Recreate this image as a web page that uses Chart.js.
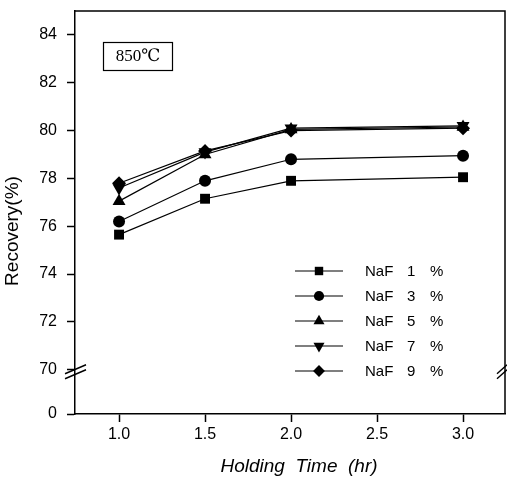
<!DOCTYPE html>
<html>
<head>
<meta charset="utf-8">
<script src="https://cdn.jsdelivr.net/npm/chart.js@4.4.1/dist/chart.umd.min.js"></script>
<style>
  html, body { margin: 0; padding: 0; background: #fff; }
  #wrap { width: 507px; height: 483px; position: relative; }
</style>
</head>
<body>
<div id="wrap"><canvas id="chart"></canvas></div>
<script>
// Recovery vs holding time at 850 C, for different NaF additions
const holdingTimes = [1.0, 1.5, 2.0, 3.0];
const naf1 = [75.65, 77.15, 77.9, 78.05];
const naf3 = [76.2, 77.9, 78.8, 78.95];
const naf5 = [77.05, 79.0, 80.05, 80.15];
const naf7 = [77.6, 79.1, 80.1, 80.2];
const naf9 = [77.8, 79.15, 80.0, 80.1];
const seriesLabels = ['NaF 1 %', 'NaF 3 %', 'NaF 5 %', 'NaF 7 %', 'NaF 9 %'];

// broken y axis: the "0" tick sits just under the 70 break
const breakValue = 68.15;
const yTicks = [breakValue, 70, 72, 74, 76, 78, 80, 82, 84];
const xTicks = [1.0, 1.5, 2.0, 2.5, 3.0];
const tempLabel = '850\u2103';

const markers = [
    { pointStyle: 'rect', rotation: 0, radius: 7 },
    { pointStyle: 'circle', rotation: 0, radius: 6 },
    { pointStyle: 'triangle', rotation: 0, radius: 7.5 },
    { pointStyle: 'triangle', rotation: 180, radius: 7.5 },
    { pointStyle: 'rectRot', rotation: 0, radius: 7 }
];

const seriesValues = [naf1, naf3, naf5, naf7, naf9];

const datasets = seriesValues.map((vals, i) => ({
    label: seriesLabels[i],
    data: holdingTimes.map((t, j) => ({ x: t, y: vals[j] })),
    borderColor: '#000',
    backgroundColor: '#000',
    borderWidth: 1.2,
    pointStyle: markers[i].pointStyle,
    rotation: markers[i].rotation,
    pointRadius: markers[i].radius,
    pointBorderWidth: 0,
    pointBackgroundColor: '#000',
    tension: 0
}));

function drawMarker(ctx, m, x, y, scale) {
    ctx.fillStyle = '#000';
    ctx.strokeStyle = '#000';
    if (Chart.helpers && Chart.helpers.drawPoint) {
        Chart.helpers.drawPoint(ctx, {
            pointStyle: m.pointStyle,
            rotation: m.rotation,
            radius: m.radius * scale,
            borderWidth: 0
        }, x, y);
    }
}

const decorations = {
    id: 'decorations',
    afterDraw(chart) {
        const ctx = chart.ctx;
        const area = chart.chartArea;
        const yScale = chart.scales.y;
        ctx.save();

        // top and right frame
        ctx.strokeStyle = '#000';
        ctx.lineWidth = 1.5;
        ctx.beginPath();
        ctx.moveTo(area.left, area.top);
        ctx.lineTo(area.right, area.top);
        ctx.lineTo(area.right, area.bottom);
        ctx.stroke();

        // axis break marks
        const yb = yScale.getPixelForValue(70) + 3;
        ctx.lineWidth = 1.4;
        [[area.left - 10, area.left + 11], [area.right - 8, area.right + 2]].forEach(([x1, x2]) => {
            ctx.beginPath();
            ctx.moveTo(x1, yb + 1);
            ctx.lineTo(x2, yb - 8);
            ctx.moveTo(x1, yb + 6);
            ctx.lineTo(x2, yb - 3);
            ctx.stroke();
        });

        // temperature box
        ctx.lineWidth = 1.2;
        ctx.strokeRect(103.5, 42.5, 69, 28);
        ctx.fillStyle = '#000';
        ctx.font = "17px 'Liberation Serif', 'DejaVu Serif', serif";
        ctx.textAlign = 'center';
        ctx.textBaseline = 'middle';
        ctx.fillText(tempLabel, 138, 57);

        // legend
        ctx.font = "15px 'Liberation Sans', Arial, sans-serif";
        ctx.textAlign = 'left';
        chart.data.datasets.forEach((ds, i) => {
            const ly = 271 + i * 25;
            ctx.lineWidth = 1.2;
            ctx.beginPath();
            ctx.moveTo(295, ly);
            ctx.lineTo(343, ly);
            ctx.stroke();
            drawMarker(ctx, markers[i], 319, ly, 0.85);
            const parts = ds.label.split(' ');
            const offsets = [0, 42, 65];
            parts.forEach((p, k) => ctx.fillText(p, 365 + offsets[k], ly + 1));
        });

        // axis titles
        ctx.font = "19px 'Liberation Sans', Arial, sans-serif";
        ctx.textAlign = 'center';
        ctx.save();
        ctx.translate(13, 231);
        ctx.rotate(-Math.PI / 2);
        ctx.fillText('Recovery(%)', 0, 0);
        ctx.restore();
        ctx.font = "italic 19px 'Liberation Sans', Arial, sans-serif";
        ctx.fillText('Holding  Time  (hr)', 299, 467);

        ctx.restore();
    }
};

new Chart(document.getElementById('chart'), {
    type: 'line',
    data: { datasets: datasets },
    options: {
        responsive: true,
        maintainAspectRatio: false,
        animation: false,
        layout: { autoPadding: false, padding: { top: 11, right: 2, left: 0, bottom: 0 } },
        plugins: {
            legend: { display: false },
            tooltip: { enabled: false }
        },
        scales: {
            x: {
                type: 'linear',
                min: 0.744,
                max: 3.244,
                afterBuildTicks: (scale) => { scale.ticks = xTicks.map(v => ({ value: v })); },
                afterFit: (scale) => {
                    scale.height = 69;
                    scale.paddingLeft = 0;
                    scale.paddingRight = 0;
                },
                grid: { drawOnChartArea: false, drawTicks: true, tickLength: 8, tickWidth: 1.5, tickColor: '#000' },
                border: { color: '#000', width: 1.5 },
                ticks: {
                    color: '#000',
                    padding: 3,
                    maxRotation: 0,
                    font: { family: "'Liberation Sans', Arial, sans-serif", size: 16 },
                    callback: (v) => Number(v).toFixed(1)
                }
            },
            y: {
                type: 'linear',
                min: breakValue,
                max: 85,
                afterBuildTicks: (scale) => { scale.ticks = yTicks.map(v => ({ value: v })); },
                afterFit: (scale) => {
                    scale.width = 75;
                    scale.paddingTop = 0;
                    scale.paddingBottom = 0;
                },
                grid: { drawOnChartArea: false, drawTicks: true, tickLength: 8, tickWidth: 1.5, tickColor: '#000' },
                border: { color: '#000', width: 1.5 },
                ticks: {
                    color: '#000',
                    padding: 10,
                    font: { family: "'Liberation Sans', Arial, sans-serif", size: 16 },
                    callback: (v) => (v < 69 ? '0' : String(v))
                }
            }
        }
    },
    plugins: [decorations]
});
</script>
</body>
</html>
